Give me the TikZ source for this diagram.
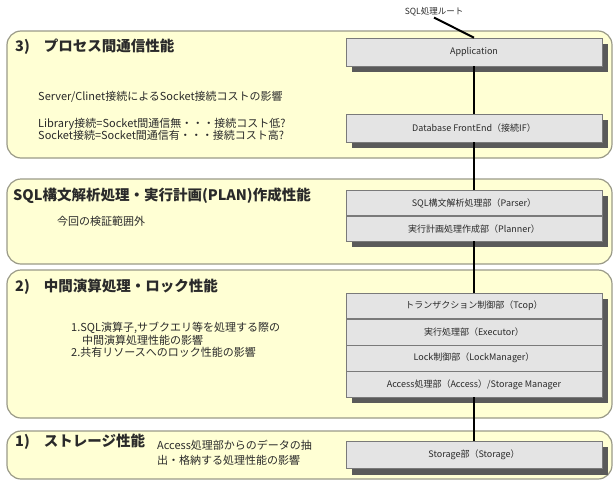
\documentclass[tikz,border=0pt]{standalone}
\usepackage{fontspec}
\setmainfont{Noto Sans CJK JP}
\usetikzlibrary{calc}
\pgfdeclarelayer{bg}
\pgfsetlayers{bg,main}
\definecolor{panelfill}{HTML}{FFFFD4}
\definecolor{panelline}{HTML}{9A9A88}
\definecolor{boxfill}{HTML}{E4E4E4}
\definecolor{boxline}{HTML}{7A7A7A}
\definecolor{shadowc}{HTML}{5A5A5A}
\definecolor{txt}{HTML}{2A2A2A}
\begin{document}
\begin{tikzpicture}[x=1pt,y=-1pt,
  panel/.style={draw=panelline,line width=1.2pt,fill=panelfill,rounded corners=14pt},
  box/.style={draw=boxline,line width=0.6pt,fill=boxfill,minimum width=256pt,minimum height=26pt,inner sep=0pt,font=\fontsize{9}{10}\selectfont,text=txt},
  shadowbox/.style={fill=shadowc},
  title/.style={anchor=west,font=\fontsize{14.5}{16}\selectfont\bfseries,text=txt,inner sep=0pt},
  body/.style={anchor=west,font=\fontsize{11}{12.5}\selectfont,text=txt,inner sep=0pt,align=left},
  route/.style={line width=2pt,black}]
\useasboundingbox (0,0) rectangle (615,482);
% panels
\begin{pgfonlayer}{bg}
\draw[panel] (7,31) rectangle (612,158);
\draw[panel] (7,179) rectangle (612,264);
\draw[panel] (7,270) rectangle (612,418);
\draw[panel] (7,431) rectangle (612,479);
\end{pgfonlayer}
% route label
\node[font=\fontsize{8.5}{10}\selectfont,text=txt,inner sep=1pt] (lbl) at (434,12) {SQL処理ルート};
% boxes
\node[box,minimum height=28pt] (app) at (474,52) {Application};
\node[box,minimum height=28pt] (dbfe) at (474,128) {Database FrontEnd（接続IF）};
\node[box,minimum height=25pt] (parser) at (474,203) {SQL構文解析処理部（Parser）};
\node[box,minimum height=25pt,anchor=north] (planner) at (parser.south) {実行計画処理作成部（Planner）};
\node[box,minimum height=25.5pt] (tcop) at (474,306) {トランザクション制御部（Tcop）};
\node[box,minimum height=25.5pt,anchor=north] (exec) at (tcop.south) {実行処理部（Executor）};
\node[box,minimum height=25.5pt,anchor=north] (lock) at (exec.south) {Lock制御部（LockManager）};
\node[box,minimum height=25.5pt,anchor=north] (acc) at (lock.south) {Access処理部（Access）/Storage Manager};
\node[box,minimum height=27pt] (stor) at (474,455) {Storage部（Storage）};
% shadows
\begin{pgfonlayer}{bg}
\fill[shadowbox] ($(app.north west)+(6,6)$) rectangle ($(app.south east)+(6,6)$);
\fill[shadowbox] ($(dbfe.north west)+(6,6)$) rectangle ($(dbfe.south east)+(6,6)$);
\fill[shadowbox] ($(parser.north west)+(6,6)$) rectangle ($(planner.south east)+(6,6)$);
\fill[shadowbox] ($(tcop.north west)+(6,6)$) rectangle ($(acc.south east)+(6,6)$);
\fill[shadowbox] ($(stor.north west)+(6,6)$) rectangle ($(stor.south east)+(6,6)$);
\end{pgfonlayer}
% route
\draw[route] (lbl.south) -- (app.north);
\draw[route] (app.south) -- (dbfe.north);
\draw[route] (dbfe.south) -- (parser.north);
\draw[route] (planner.south) -- (tcop.north);
\draw[route] (acc.south) -- (stor.north);
% texts
\node[title] (t3) at (15,47) {3)\hspace{14pt}プロセス間通信性能};
\node[body] (b3a) at (38,97) {Server/Clinet接続によるSocket接続コストの影響};
\node[body] (b3b) at (38,129.5) {Library接続=Socket間通信無・・・接続コスト低?\\Socket接続=Socket間通信有・・・接続コスト高?};
\node[title] (tsql) at (13,196) {SQL構文解析処理・実行計画(PLAN)作成性能};
\node[body,anchor=center] (bsql) at (101,221) {今回の検証範囲外};
\node[title] (t2) at (15,287) {2)\hspace{14pt}中間演算処理・ロック性能};
\node[body] (b2) at (71,340) {1.SQL演算子,サブクエリ等を処理する際の\\\hspace{11pt}中間演算処理性能の影響\\2.共有リソースへのロック性能の影響};
\node[title] (t1) at (15,442) {1)\hspace{14pt}ストレージ性能};
\node[body,font=\fontsize{11}{14.5}\selectfont] (b1) at (157,453) {Access処理部からのデータの抽\\出・格納する処理性能の影響};
\end{tikzpicture}
\end{document}
